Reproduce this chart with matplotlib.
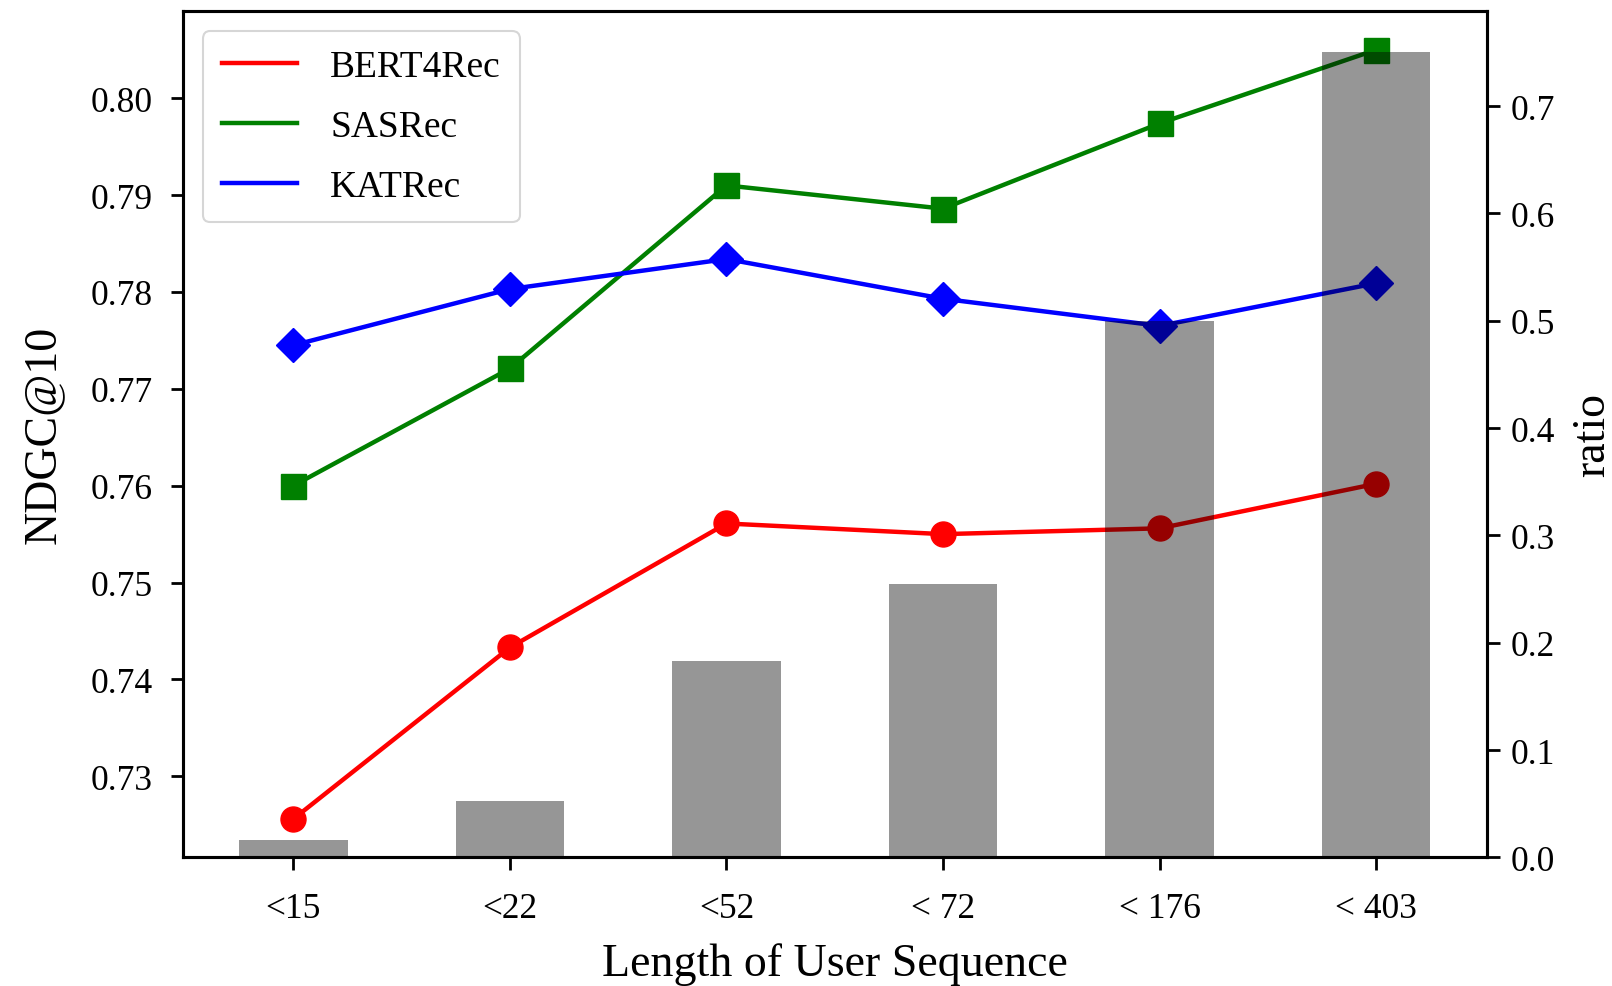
import matplotlib
matplotlib.use('Agg')
import matplotlib.pyplot as plt
import numpy as np

plt.rcParams['font.family'] = ['Liberation Serif', 'DejaVu Serif']

# data
groups = ['<15', '<22', '<52', '< 72', '< 176', '< 403']
bert4rec = [0.7256, 0.7433, 0.7561, 0.7550, 0.7556, 0.7602]
sasrec = [0.7600, 0.7721, 0.7910, 0.7886, 0.7974, 0.8050]
katrec = [0.7745, 0.7803, 0.7834, 0.7793, 0.7765, 0.7809]
ratio = [0.0163, 0.0526, 0.1827, 0.2544, 0.5001, 0.7507]

x = np.arange(len(groups))

fig = plt.figure(figsize=(16.12, 9.87), dpi=100)
ax = fig.add_axes([0.1135, 0.1303, 0.8087, 0.8572])

lw = 3.2
ms = 18
ax.plot(x, bert4rec, '-', color='r', lw=lw, label='BERT4Rec')
ax.plot(x, sasrec, '-', color='g', lw=lw, label='SASRec')
ax.plot(x, katrec, '-', color='b', lw=lw, label='KATRec')
ax.plot(x, bert4rec, 'o', color='r', ms=ms)
ax.plot(x, sasrec, 's', color='g', ms=ms)
ax.plot(x, katrec, 'D', color='b', ms=ms * 0.95)

ax.set_xticks(x)
ax.set_xticklabels(groups)
ax.set_xlabel('Length of User Sequence', fontsize=33, labelpad=12)
ax.set_ylabel('NDGC@10', fontsize=33, labelpad=18)
ax.set_yticks([0.73, 0.74, 0.75, 0.76, 0.77, 0.78, 0.79, 0.80])
ax.tick_params(axis='y', labelsize=25.5, length=9, width=2.0, pad=13)
ax.tick_params(axis='x', labelsize=25.5, length=9, width=2.0, pad=16)
for s in ax.spines.values():
    s.set_linewidth(2.2)

leg = ax.legend(loc='upper left', fontsize=27, handlelength=2.0,
                borderpad=0.5, labelspacing=0.67, handletextpad=0.9,
                borderaxespad=0.53)
leg.get_frame().set_linewidth(1.5)

# bars on the twin axis, drawn over the lines
ax2 = ax.twinx()
ax2.bar(x, ratio, width=0.5, color='k', alpha=0.41, linewidth=0)
ax2.set_ylabel('ratio', fontsize=33, labelpad=12)
ax2.set_yticks([0.0, 0.1, 0.2, 0.3, 0.4, 0.5, 0.6, 0.7])
ax2.tick_params(labelsize=25.5, length=9, width=2.0, pad=8)
for s in ax2.spines.values():
    s.set_linewidth(2.2)
ax.set_xlim(-0.51, 5.51)

fig.savefig('out.png', dpi=100)
plt.close()
